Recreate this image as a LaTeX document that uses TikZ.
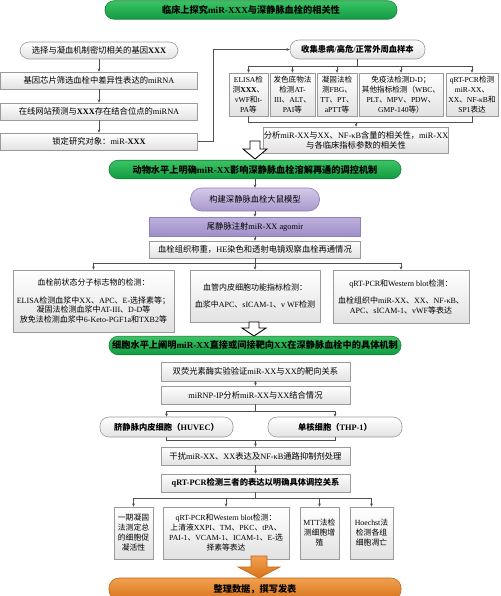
\documentclass[tikz,border=0pt]{standalone}
\usepackage{fontspec}
\setmainfont{Liberation Serif}
\newfontfamily\cjk{Noto Sans CJK SC}
\XeTeXinterchartokenstate=1
\newXeTeXintercharclass\CJKcls
\newcount\cjkcc
\def\setcjkrange#1#2{\cjkcc=#1\relax\loop\XeTeXcharclass\cjkcc=\CJKcls\relax\ifnum\cjkcc<#2\relax\advance\cjkcc by 1\relax\repeat}
\setcjkrange{"3000}{"303F}
\setcjkrange{"4E00}{"9FFF}
\setcjkrange{"FF00}{"FFEF}
\XeTeXinterchartoks 0 \CJKcls = {\cjk}
\XeTeXinterchartoks 4095 \CJKcls = {\cjk}
\XeTeXinterchartoks \CJKcls 0 = {\rmfamily}
\XeTeXinterchartoks \CJKcls 4095 = {\rmfamily}
\usetikzlibrary{arrows.meta}
\definecolor{boxln}{HTML}{9A9A9A}
\definecolor{boxbt}{HTML}{E2E2E2}
\definecolor{grnln}{HTML}{16813A}
\definecolor{grntp}{HTML}{3CC463}
\definecolor{grnbt}{HTML}{119A43}
\definecolor{purln}{HTML}{8E80B8}
\definecolor{purtp}{HTML}{D3C9E8}
\definecolor{purbt}{HTML}{A999CD}
\definecolor{pur2tp}{HTML}{BDB0DC}
\definecolor{pur2bt}{HTML}{9F8FC8}
\definecolor{orln}{HTML}{C2650F}
\definecolor{ortp}{HTML}{F0A050}
\definecolor{orbt}{HTML}{D9731A}
\definecolor{lnc}{HTML}{505050}
\newcommand\fsA{\fontsize{8.3}{10}\selectfont}
\newcommand\fsT{\fontsize{9.2}{11}\selectfont}
\newcommand\fsR{\fontsize{7.6}{10}\selectfont}
\newcommand\fsB{\fontsize{8}{9.5}\selectfont}
\newcommand\fsC{\fontsize{7.8}{10}\selectfont}
\tikzset{
  base/.style={inner sep=0.5pt, align=center, line width=0.6pt},
  gbox/.style={base, draw=boxln, top color=white, bottom color=boxbt, font=\fsA},
  rbox/.style={gbox, rounded corners=9pt},
  title/.style={base, draw=grnln, top color=grntp, bottom color=grnbt, rounded corners=9pt, font=\fsT\bfseries, minimum width=292pt, minimum height=18.5pt},
  rowa/.style={gbox, font=\fsR, minimum height=43pt},
  rowb/.style={gbox, font=\fsB},
  rowc/.style={gbox, font=\fsC, minimum height=52pt},
  cbox/.style={gbox, minimum width=189pt, minimum height=18pt},
  conn/.style={draw=lnc, line width=0.5pt, -{Stealth[length=3.2pt,width=2.8pt]}},
  plain/.style={draw=lnc, line width=0.5pt},
  hollow/.style={draw=black, line width=0.9pt, fill=white, line join=miter},
  orarrow/.style={draw=orln, line width=0.6pt, top color=ortp, bottom color=orbt}
}
\begin{document}
\begin{tikzpicture}[x=1pt, y=-1pt]
\clip (0,0) rectangle (500,596);
\fill[white] (0,0) rectangle (500,596);

% section 1
\node[title] (t1) at (251,10) {临床上探究miR-XXX与深静脉血栓的相关性};
\node[rbox, minimum width=158pt, minimum height=17pt] (s1) at (99,50.5) {选择与凝血机制密切相关的基因\textbf{XXX}};
\node[gbox, minimum width=197pt, minimum height=17pt] (s2) at (99,80.5) {基因芯片筛选血栓中差异性表达的miRNA};
\node[gbox, minimum width=197pt, minimum height=17pt] (s3) at (99,111.5) {在线网站预测与\textbf{XXX}存在结合位点的miRNA};
\node[gbox, minimum width=197pt, minimum height=17pt] (s4) at (99,141.5) {锁定研究对象：miR-\textbf{XXX}};
\node[rbox, font=\fsA\bfseries, minimum width=135pt, minimum height=19pt] (col) at (357.5,49.5) {收集患病/高危/正常外周血样本};
\node[rowa, minimum width=39pt] (e1) at (248.5,94.5) {ELISA检\\测\textbf{XXX}、\\vWF和t-\\PA等};
\node[rowa, minimum width=45pt] (e2) at (292.5,94.5) {发色底物法\\检测AT-\\III、ALT、\\PAI等};
\node[rowa, minimum width=40pt] (e3) at (337,94.5) {凝固法检\\测FBG、\\TT、PT、\\aPTT等};
\node[rowa, minimum width=84pt] (e4) at (401,94.5) {免疫法检测D-D；\\其他指标检测（WBC、\\PLT、MPV、PDW、\\GMP-140等）};
\node[rowa, minimum width=52pt] (e5) at (472,94.5) {qRT-PCR检测\\miR-XX、\\XX、NF-κB和\\SP1表达};
\node[gbox, minimum width=182pt, minimum height=26pt] (an) at (356,140) {分析miR-XX与XX、NF-κB含量的相关性，miR-XX\\与各临床指标参数的相关性};

\draw[conn] (s1.south) -- (s2.north);
\draw[conn] (s2.south) -- (s3.north);
\draw[conn] (s3.south) -- (s4.north);
\draw[conn] (s4.east) -- ++(15,0) |- (col.west);
\draw[plain] (col.south) -- ++(0,7) coordinate (b1);
\draw[plain] (e1.north |- b1) -- (e5.north |- b1);
\foreach \n in {e1,e2,e3,e4,e5} \draw[conn] (\n.north |- b1) -- (\n.north);
\draw[plain] (e1.south) -- ++(0,6) coordinate (b2) -- (e5.south |- b2) -- (e5.south);
\draw[conn] (an.north |- b2) -- (an.north);

\draw[hollow] (250,141) -- (260,141) -- (260,149) -- (267,149) -- (255,159) -- (243,149) -- (250,149) -- cycle;

% section 2
\node[title] (t2) at (255,169.5) {动物水平上明确miR-XX影响深静脉血栓溶解再通的调控机制};
\node[base, draw=purln, top color=purtp, bottom color=purbt, rounded corners=11pt, minimum width=129pt, minimum height=23pt, font=\fsA] (p1) at (255,199.5) {构建深静脉血栓大鼠模型};
\node[base, draw=purln, top color=pur2tp, bottom color=pur2bt, minimum width=211pt, minimum height=19pt, font=\fsA] (p2) at (255,226.5) {尾静脉注射miR-XX agomir};
\node[gbox, minimum width=211pt, minimum height=17pt] (w1) at (255,249.5) {血栓组织称重，HE染色和透射电镜观察血栓再通情况};
\node[rowb, minimum width=161pt, minimum height=62pt] (a1) at (93.5,301) {血栓前状态分子标志物的检测：\\[8pt]ELISA检测血浆中XX、APC、E-选择素等；\\凝固法检测血浆中AT-III、D-D等\\放免法检测血浆中6-Keto-PGF1a和TXB2等};
\node[rowb, minimum width=130pt, minimum height=52pt] (a2) at (255,296) {血管内皮细胞功能指标检测：\\[8pt]血浆中APC、sICAM-1、v WF检测};
\node[rowb, minimum width=136pt, minimum height=53pt] (a3) at (401,296.5) {qRT-PCR和Western blot检测：\\[8pt]血栓组织中miR-XX、XX、NF-κB、\\APC、sICAM-1、vWF等表达};

\draw[conn] (t2.south) -- (p1.north);
\draw[conn] (p1.south) -- (p2.north);
\draw[conn] (p2.south) -- (w1.north);
\draw[plain] (w1.south) -- ++(0,5) coordinate (b3);
\draw[plain] (a1.north |- b3) -- (a3.north |- b3);
\foreach \n in {a1,a2,a3} \draw[conn] (\n.north |- b3) -- (\n.north);

\draw[hollow] (249,322) -- (259,322) -- (259,328) -- (266,328) -- (254,336) -- (242,328) -- (249,328) -- cycle;

% section 3
\node[title] (t3) at (255,345.5) {细胞水平上阐明miR-XX直接或间接靶向XX在深静脉血栓中的具体机制};
\node[cbox, minimum height=19pt] (c1) at (255.5,371.5) {双荧光素酶实验验证miR-XX与XX的靶向关系};
\node[cbox] (c2) at (255.5,395) {miRNP-IP分析miR-XX与XX结合情况};
\node[rbox, font=\fsA\bfseries, minimum width=133pt, minimum height=20pt] (hu) at (166.5,427) {脐静脉内皮细胞（HUVEC）};
\node[rbox, font=\fsA\bfseries, minimum width=134pt, minimum height=20pt] (th) at (335,427) {单核细胞（THP-1）};
\node[cbox] (c3) at (255.5,456) {干扰miR-XX、XX表达及NF-κB通路抑制剂处理};
\node[cbox, font=\fsA\bfseries] (c4) at (255.5,483) {qRT-PCR检测三者的表达以明确具体调控关系};
\node[rowc, minimum width=39pt] (d1) at (133.5,533) {一期凝固\\法测定总\\的细胞促\\凝活性};
\node[rowc, minimum width=126pt] (d2) at (226,533) {qRT-PCR和Western blot检测：\\上清液XXPI、TM、PKC、tPA、\\PAI-1、VCAM-1、ICAM-1、E-选\\择素等表达};
\node[rowc, minimum width=39pt] (d3) at (319.5,533) {MTT法检\\测细胞增\\殖};
\node[rowc, minimum width=43pt] (d4) at (371.5,533) {Hoechst法\\检测各组\\细胞凋亡};

\draw[conn] (c1.south) -- (c2.north);
\draw[plain] (c2.south) -- ++(0,7) coordinate (b4);
\draw[plain] (hu.north |- b4) -- (th.north |- b4);
\draw[conn] (hu.north |- b4) -- (hu.north);
\draw[conn] (th.north |- b4) -- (th.north);
\draw[plain] (hu.south) -- ++(0,3) coordinate (b5) -- (th.south |- b5) -- (th.south);
\draw[conn] (c3.north |- b5) -- (c3.north);
\draw[conn] (c3.south) -- (c4.north);
\draw[plain] (c4.south) -- ++(0,6) coordinate (b6);
\draw[plain] (d1.north |- b6) -- (d4.north |- b6);
\foreach \n in {d1,d2,d3,d4} \draw[conn] (\n.north |- b6) -- (\n.north);

% final
\draw[orarrow] (251,556) -- (267,556) -- (267,567) -- (280,567) -- (259,578) -- (238,567) -- (251,567) -- cycle;
\node[base, draw=orln, top color=ortp, bottom color=orbt, rounded corners=10pt, minimum width=292pt, minimum height=22pt, font=\fsT\bfseries] (ob) at (255,589) {整理数据，撰写发表};
\end{tikzpicture}
\end{document}
